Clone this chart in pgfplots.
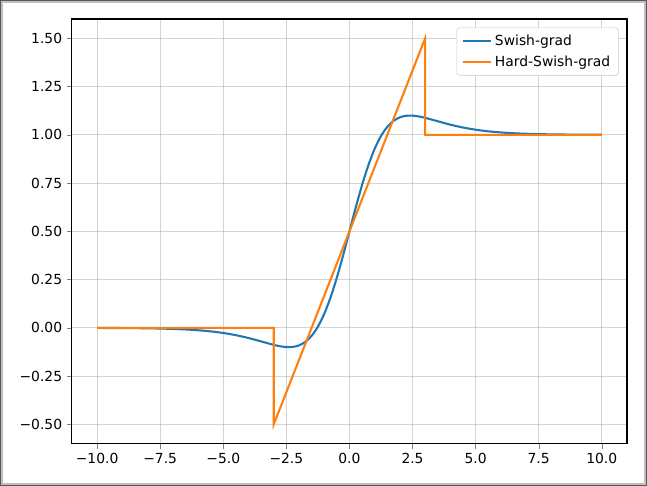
\documentclass[border=0pt]{standalone}
\usepackage{fontspec}
\setmainfont{DejaVu Sans}
\usepackage{pgfplots}
\pgfplotsset{compat=1.18}
\definecolor{mplblue}{HTML}{1F77B4}
\definecolor{mplorange}{HTML}{FF7F0E}
\definecolor{mplgrid}{HTML}{B0B0B0}

\begin{document}
\begin{tikzpicture}
\begin{axis}[
    scale only axis,
    width=400pt, height=306pt,
    xmin=-11, xmax=11,
    ymin=-0.6, ymax=1.6,
    xtick={-10,-7.5,-5,-2.5,0,2.5,5,7.5,10},
    xticklabels={−10.0,−7.5,−5.0,−2.5,0.0,2.5,5.0,7.5,10.0},
    ytick={-0.5,-0.25,0,0.25,0.5,0.75,1,1.25,1.5},
    yticklabels={−0.50,−0.25,0.00,0.25,0.50,0.75,1.00,1.25,1.50},
    tick label style={font=\fontsize{10}{12}\selectfont},
    tick align=outside, tick pos=left,
    major tick length=3.5pt,
    xmajorgrids, ymajorgrids,
    grid style={mplgrid, line width=0.6pt, opacity=0.55},
    axis line style={line width=0.8pt},
    legend cell align=left,
    legend image code/.code={\draw[#1] (0pt,0pt) -- (20pt,0pt);},
    legend style={font=\fontsize{10}{12}\selectfont, draw=black!20, rounded corners=2pt,
        at={(0.985,0.98)}, anchor=north east, inner xsep=4pt, inner ysep=3pt, row sep=2pt},
    clip=false,
]
\addplot[mplblue, line width=1.5pt, smooth] coordinates {
(-10,-0.000409) (-9.5,-0.000636) (-9,-0.000987) (-8.5,-0.001525) (-8,-0.002347)
(-7.5,-0.003591) (-7,-0.00546) (-6.5,-0.008241) (-6,-0.01233) (-5.5,-0.01822)
(-5,-0.02655) (-4.5,-0.03791) (-4,-0.05266) (-3.5,-0.07027) (-3,-0.08810)
(-2.75,-0.09522) (-2.5,-0.09940) (-2.25,-0.09873) (-2,-0.09078) (-1.75,-0.07268)
(-1.5,-0.04129) (-1.25,0.006319) (-1,0.07233) (-0.75,0.15740) (-0.5,0.26004)
(-0.25,0.37629) (0,0.5) (0.25,0.62371) (0.5,0.73996) (0.75,0.84260)
(1,0.92767) (1.25,0.99368) (1.5,1.04129) (1.75,1.07268) (2,1.09078)
(2.25,1.09873) (2.5,1.09940) (2.75,1.09522) (3,1.08810) (3.5,1.07027)
(4,1.05266) (4.5,1.03791) (5,1.02655) (5.5,1.01822) (6,1.01233)
(6.5,1.008241) (7,1.00546) (7.5,1.003591) (8,1.002347) (8.5,1.001525)
(9,1.000987) (9.5,1.000636) (10,1.000409)
};
\addplot[mplorange, line width=1.5pt] coordinates {
(-10,0) (-3,0) (-3,-0.5) (3,1.5) (3,1) (10,1)
};
\legend{Swish-grad, Hard-Swish-grad}
\end{axis}
\coordinate (bbsw) at ([shift={(-51.8pt,-30.2pt)}]current axis.south west);
\coordinate (bbne) at ([shift={(14.4pt,13.7pt)}]current axis.north east);
\path (bbsw) rectangle (bbne);
\draw[black!25, line width=1.44pt] ([shift={(1.44pt,1.44pt)}]bbsw) rectangle ([shift={(-1.44pt,-1.44pt)}]bbne);
\draw[black!65, line width=0.72pt] ([shift={(0.36pt,0.36pt)}]bbsw) rectangle ([shift={(-0.36pt,-0.36pt)}]bbne);
\end{tikzpicture}
\end{document}
